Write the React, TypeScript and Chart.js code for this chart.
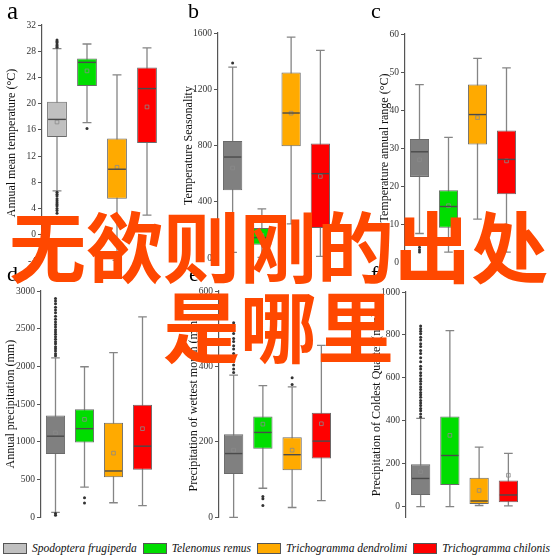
import { useEffect, useRef } from "react";
import { Chart, registerables } from "chart.js";

Chart.register(...registerables);
Chart.defaults.font.family = "'Liberation Serif', 'Times New Roman', serif";

const species = [
  "Spodoptera frugiperda",
  "Telenomus remus",
  "Trichogramma dendrolimi",
  "Trichogramma chilonis",
];

// a - annual mean temperature
const aLow = [6.7, 17.1, -3.9, 3.0];
const aQ1 = [14.9, 22.7, 5.5, 14.0];
const aMed = [17.6, 26.3, 10.0, 22.3];
const aQ3 = [20.3, 26.9, 14.7, 25.5];
const aHigh = [28.4, 29.1, 24.4, 28.5];
const aMean = [17.2, 25.0, 10.3, 19.5];
const aOut = [
  [28.6, 28.8, 29.0, 29.3, 29.5, 29.7, 6.5, 6.2, 5.9, 5.5, 5.2, 4.9, 4.6, 4.4, 4.0, 3.7, 3.3],
  [16.2],
  [],
  [],
];

// b - temperature seasonality
const bLow = [40, 5, 242, 12];
const bQ1 = [481, 95, 794, 213];
const bMed = [718, 145, 1031, 600];
const bQ3 = [832, 213, 1320, 815];
const bHigh = [1358, 350, 1571, 1477];
const bMean = [640, 160, 1030, 580];
const bOut = [[1387], [], [], []];

// c - temperature annual range
const cLow = [7.5, 2.6, 11.3, 2.6];
const cQ1 = [22.4, 9.0, 30.9, 17.8];
const cMed = [29.0, 14.6, 38.8, 27.0];
const cQ3 = [32.4, 18.9, 46.7, 34.6];
const cHigh = [46.7, 32.8, 53.6, 51.1];
const cMean = [26.9, 14.8, 38.0, 26.6];
const cOut = [[3.9, 3.2, 2.6], [], [], []];

// d - annual precipitation
const dLow = [66, 399, 193, 154];
const dQ1 = [838, 991, 531, 632];
const dMed = [1075, 1175, 614, 943];
const dQ3 = [1351, 1434, 1254, 1491];
const dHigh = [2114, 1996, 2184, 2658];
const dMean = [1118, 1298, 851, 1175];
const dOut = [
  [2140, 2168, 2205, 2236, 2262, 2300, 2327, 2361, 2392, 2428, 2455, 2487, 2523, 2556, 2588, 2627, 2665, 2712, 2748, 2786, 2831, 2868, 2900, 50, 28],
  [259, 189],
  [],
  [],
];

// e - precipitation of wettest month
const eLow = [0, 77, 26, 44];
const eQ1 = [115, 182, 125, 156];
const eMed = [169, 225, 166, 202];
const eQ3 = [220, 267, 212, 277];
const eHigh = [377, 349, 346, 456];
const eMean = [178, 247, 178, 248];
const eOut = [
  [384, 393, 404, 413, 426, 434, 446, 455, 466, 474, 487, 495, 506, 516],
  [55, 49, 31],
  [352, 370],
  [],
];

// f - precipitation of coldest quarter
const fTicks = [0, 200, 400, 600, 800, 1000];
const fLow = [0, 0, 5, 3];
const fQ1 = [54, 100, 12, 20];
const fMed = [131, 238, 26, 54];
const fQ3 = [197, 420, 134, 122];
const fHigh = [411, 820, 277, 248];
const fMean = [162, 332, 75, 146];
const fOut = [
  [418, 431, 446, 457, 471, 483, 494, 509, 521, 532, 546, 557, 571, 584, 596, 611, 624, 641, 654, 675, 694, 713, 727, 746, 759, 776, 789, 806, 817, 829, 841],
  [],
  [],
  [],
];

const fillsLight = ["#c0c0c0", "#00dd00", "#ffaa00", "#ff0000"];
const fillsDark = ["#808080", "#00dd00", "#ffaa00", "#ff0000"];

const panels = [
  {
    letter: "a", title: "Annual mean temperature (°C)", min: -4, max: 32, step: 4,
    low: aLow, q1: aQ1, med: aMed, q3: aQ3, high: aHigh, mean: aMean, out: aOut, fills: fillsLight,
    left: 0, top: 0, w: 182, h: 275, axisW: 42, pad: { top: 25, right: 20, bottom: 14 }, titlePad: 5,
    lx: 7, ly: 0, lsize: 25,
  },
  {
    letter: "b", title: "Temperature Seasonality", min: 0, max: 1600, step: 400,
    low: bLow, q1: bQ1, med: bMed, q3: bQ3, high: bHigh, mean: bMean, out: bOut, fills: fillsDark,
    left: 182, top: 0, w: 185, h: 275, axisW: 36, pad: { top: 33, right: 32, bottom: 17 }, titlePad: 0,
    lx: 188, ly: 0, lsize: 22,
  },
  {
    letter: "c", title: "Temperature annual range (°C)", min: 0, max: 60, step: 10,
    low: cLow, q1: cQ1, med: cMed, q3: cQ3, high: cHigh, mean: cMean, out: cOut, fills: fillsDark,
    left: 367, top: 0, w: 190, h: 275, axisW: 38, pad: { top: 34, right: 36, bottom: 13 }, titlePad: 11,
    lx: 371, ly: 0, lsize: 22,
  },
  {
    letter: "d", title: "Annual precipitation (mm)", min: 0, max: 3000, step: 500,
    low: dLow, q1: dQ1, med: dMed, q3: dQ3, high: dHigh, mean: dMean, out: dOut, fills: fillsDark,
    left: 0, top: 275, w: 182, h: 250, axisW: 41, pad: { top: 16, right: 25, bottom: 6 }, titlePad: 4,
    lx: 7, ly: 263, lsize: 22,
  },
  {
    letter: "e", title: "Precipitation of wettest month (mm)", min: 0, max: 600, step: 200,
    low: eLow, q1: eQ1, med: eMed, q3: eQ3, high: eHigh, mean: eMean, out: eOut, fills: fillsDark,
    left: 182, top: 275, w: 185, h: 250, axisW: 37, pad: { top: 16, right: 31, bottom: 6 }, titlePad: 5,
    lx: 189, ly: 263, lsize: 22,
  },
  {
    letter: "f", title: "Precipitation of Coldest Quarter (mm)", min: -50, max: 1000, ticks: fTicks,
    low: fLow, q1: fQ1, med: fMed, q3: fQ3, high: fHigh, mean: fMean, out: fOut, fills: fillsDark,
    left: 367, top: 275, w: 190, h: 250, axisW: 39, pad: { top: 17, right: 34, bottom: 6 }, titlePad: 3,
    lx: 371, ly: 263, lsize: 22,
  },
];

function BoxPanel({ p }: { p: any }) {
  const canvasRef = useRef<HTMLCanvasElement>(null);

  useEffect(() => {
    // whiskers under the boxes, medians on top
    const whiskers = {
      id: "whiskers",
      beforeDatasetsDraw(chart: any) {
        const { ctx, scales } = chart;
        const bars = chart.getDatasetMeta(0).data;
        ctx.save();
        ctx.strokeStyle = "#858585";
        ctx.lineWidth = 1.3;
        bars.forEach((bar: any, i: number) => {
          const yl = scales.y.getPixelForValue(p.low[i]);
          const yh = scales.y.getPixelForValue(p.high[i]);
          const cap = bar.width * 0.45;
          ctx.beginPath();
          ctx.moveTo(bar.x, yl);
          ctx.lineTo(bar.x, yh);
          ctx.moveTo(bar.x - cap / 2, yl);
          ctx.lineTo(bar.x + cap / 2, yl);
          ctx.moveTo(bar.x - cap / 2, yh);
          ctx.lineTo(bar.x + cap / 2, yh);
          ctx.stroke();
        });
        ctx.restore();
      },
      afterDatasetsDraw(chart: any) {
        const { ctx, scales } = chart;
        const bars = chart.getDatasetMeta(0).data;
        ctx.save();
        ctx.strokeStyle = "#4a4a4a";
        ctx.lineWidth = 1.4;
        bars.forEach((bar: any, i: number) => {
          const ym = scales.y.getPixelForValue(p.med[i]);
          ctx.beginPath();
          ctx.moveTo(bar.x - bar.width / 2 + 1, ym);
          ctx.lineTo(bar.x + bar.width / 2 - 1, ym);
          ctx.stroke();
        });
        ctx.restore();
      },
    };

    const chart = new Chart(canvasRef.current!, {
      type: "bar",
      data: {
        labels: species,
        datasets: [
          {
            type: "bar",
            data: p.q1.map((v: number, i: number) => [v, p.q3[i]]),
            backgroundColor: p.fills,
            borderColor: "#6a6a6a",
            borderWidth: 1,
            borderSkipped: false,
            barPercentage: 0.66,
            categoryPercentage: 1,
            order: 2,
          },
          {
            type: "scatter",
            data: p.mean.map((v: number, i: number) => ({ x: species[i], y: v })),
            pointStyle: "rect",
            pointRadius: 2.6,
            backgroundColor: "rgba(0,0,0,0)",
            borderColor: "#8a8a8a",
            borderWidth: 0.8,
            order: 1,
          },
          {
            type: "scatter",
            data: p.out.flatMap((arr: number[], i: number) =>
              arr.map((v) => ({ x: species[i], y: v }))
            ),
            pointStyle: "circle",
            pointRadius: 1.5,
            backgroundColor: "#333",
            borderWidth: 0,
            order: 0,
          },
        ] as any,
      },
      options: {
        responsive: false,
        animation: false,
        events: [],
        layout: { padding: { left: 0, ...p.pad } },
        plugins: {
          legend: { display: false },
          tooltip: { enabled: false },
        },
        scales: {
          x: { type: "category", display: false, offset: true },
          y: {
            min: p.min,
            max: p.max,
            afterFit: (s: any) => {
              s.width = p.axisW;
            },
            afterBuildTicks: (s: any) => {
              if (p.ticks) s.ticks = p.ticks.map((v: number) => ({ value: v }));
            },
            ticks: {
              stepSize: p.step,
              color: "#333",
              font: { size: 9.5 },
              padding: 2,
              callback: (v: any) => String(v),
            },
            grid: {
              display: true,
              drawOnChartArea: false,
              drawTicks: true,
              tickLength: 4,
              color: "#555",
            },
            border: { display: true, color: "#555", width: 1.2 },
            title: {
              display: true,
              text: p.title,
              color: "#111",
              font: { size: 12 },
              padding: { top: p.titlePad, bottom: 0 },
            },
          },
        },
      },
      plugins: [whiskers],
    });

    return () => {
      chart.destroy();
    };
  }, [p]);

  return (
    <canvas
      ref={canvasRef}
      width={p.w}
      height={p.h}
      style={{ position: "absolute", left: p.left, top: p.top }}
    ></canvas>
  );
}

export default function App() {
  return (
    <div
      style={{
        position: "absolute",
        left: 0,
        top: 0,
        width: 557,
        height: 560,
        background: "#fff",
        overflow: "hidden",
        fontFamily: "'Liberation Serif', serif",
      }}
    >
      {panels.map((p) => (
        <BoxPanel key={p.letter} p={p} />
      ))}
      {panels.map((p) => (
        <div
          key={"l" + p.letter}
          style={{
            position: "absolute",
            left: p.lx,
            top: p.ly,
            fontSize: p.lsize,
            lineHeight: "22px",
            color: "#000",
          }}
        >
          {p.letter}
        </div>
      ))}
      <div
        style={{
          position: "absolute",
          left: 3,
          top: 542,
          display: "flex",
          alignItems: "center",
          fontStyle: "italic",
          fontSize: 11.5,
          color: "#111",
          whiteSpace: "nowrap",
        }}
      >
        {species.map((s, i) => (
          <div key={s} style={{ display: "flex", alignItems: "center", marginRight: 6 }}>
            <span
              style={{
                display: "inline-block",
                width: 22,
                height: 9,
                border: "1px solid #555",
                background: fillsLight[i],
                marginRight: 5,
              }}
            ></span>
            <span>{s}</span>
          </div>
        ))}
      </div>
      <div
        style={{
          position: "absolute",
          left: 0,
          top: 204,
          width: 557,
          textAlign: "center",
          fontFamily: "'Noto Sans CJK SC', sans-serif",
          fontWeight: 700,
          fontSize: 77,
          lineHeight: "80px",
          color: "#ff4800",
          pointerEvents: "none",
          zIndex: 10,
        }}
      >
        无欲则刚的出处
        <br />
        是哪里
      </div>
    </div>
  );
}
